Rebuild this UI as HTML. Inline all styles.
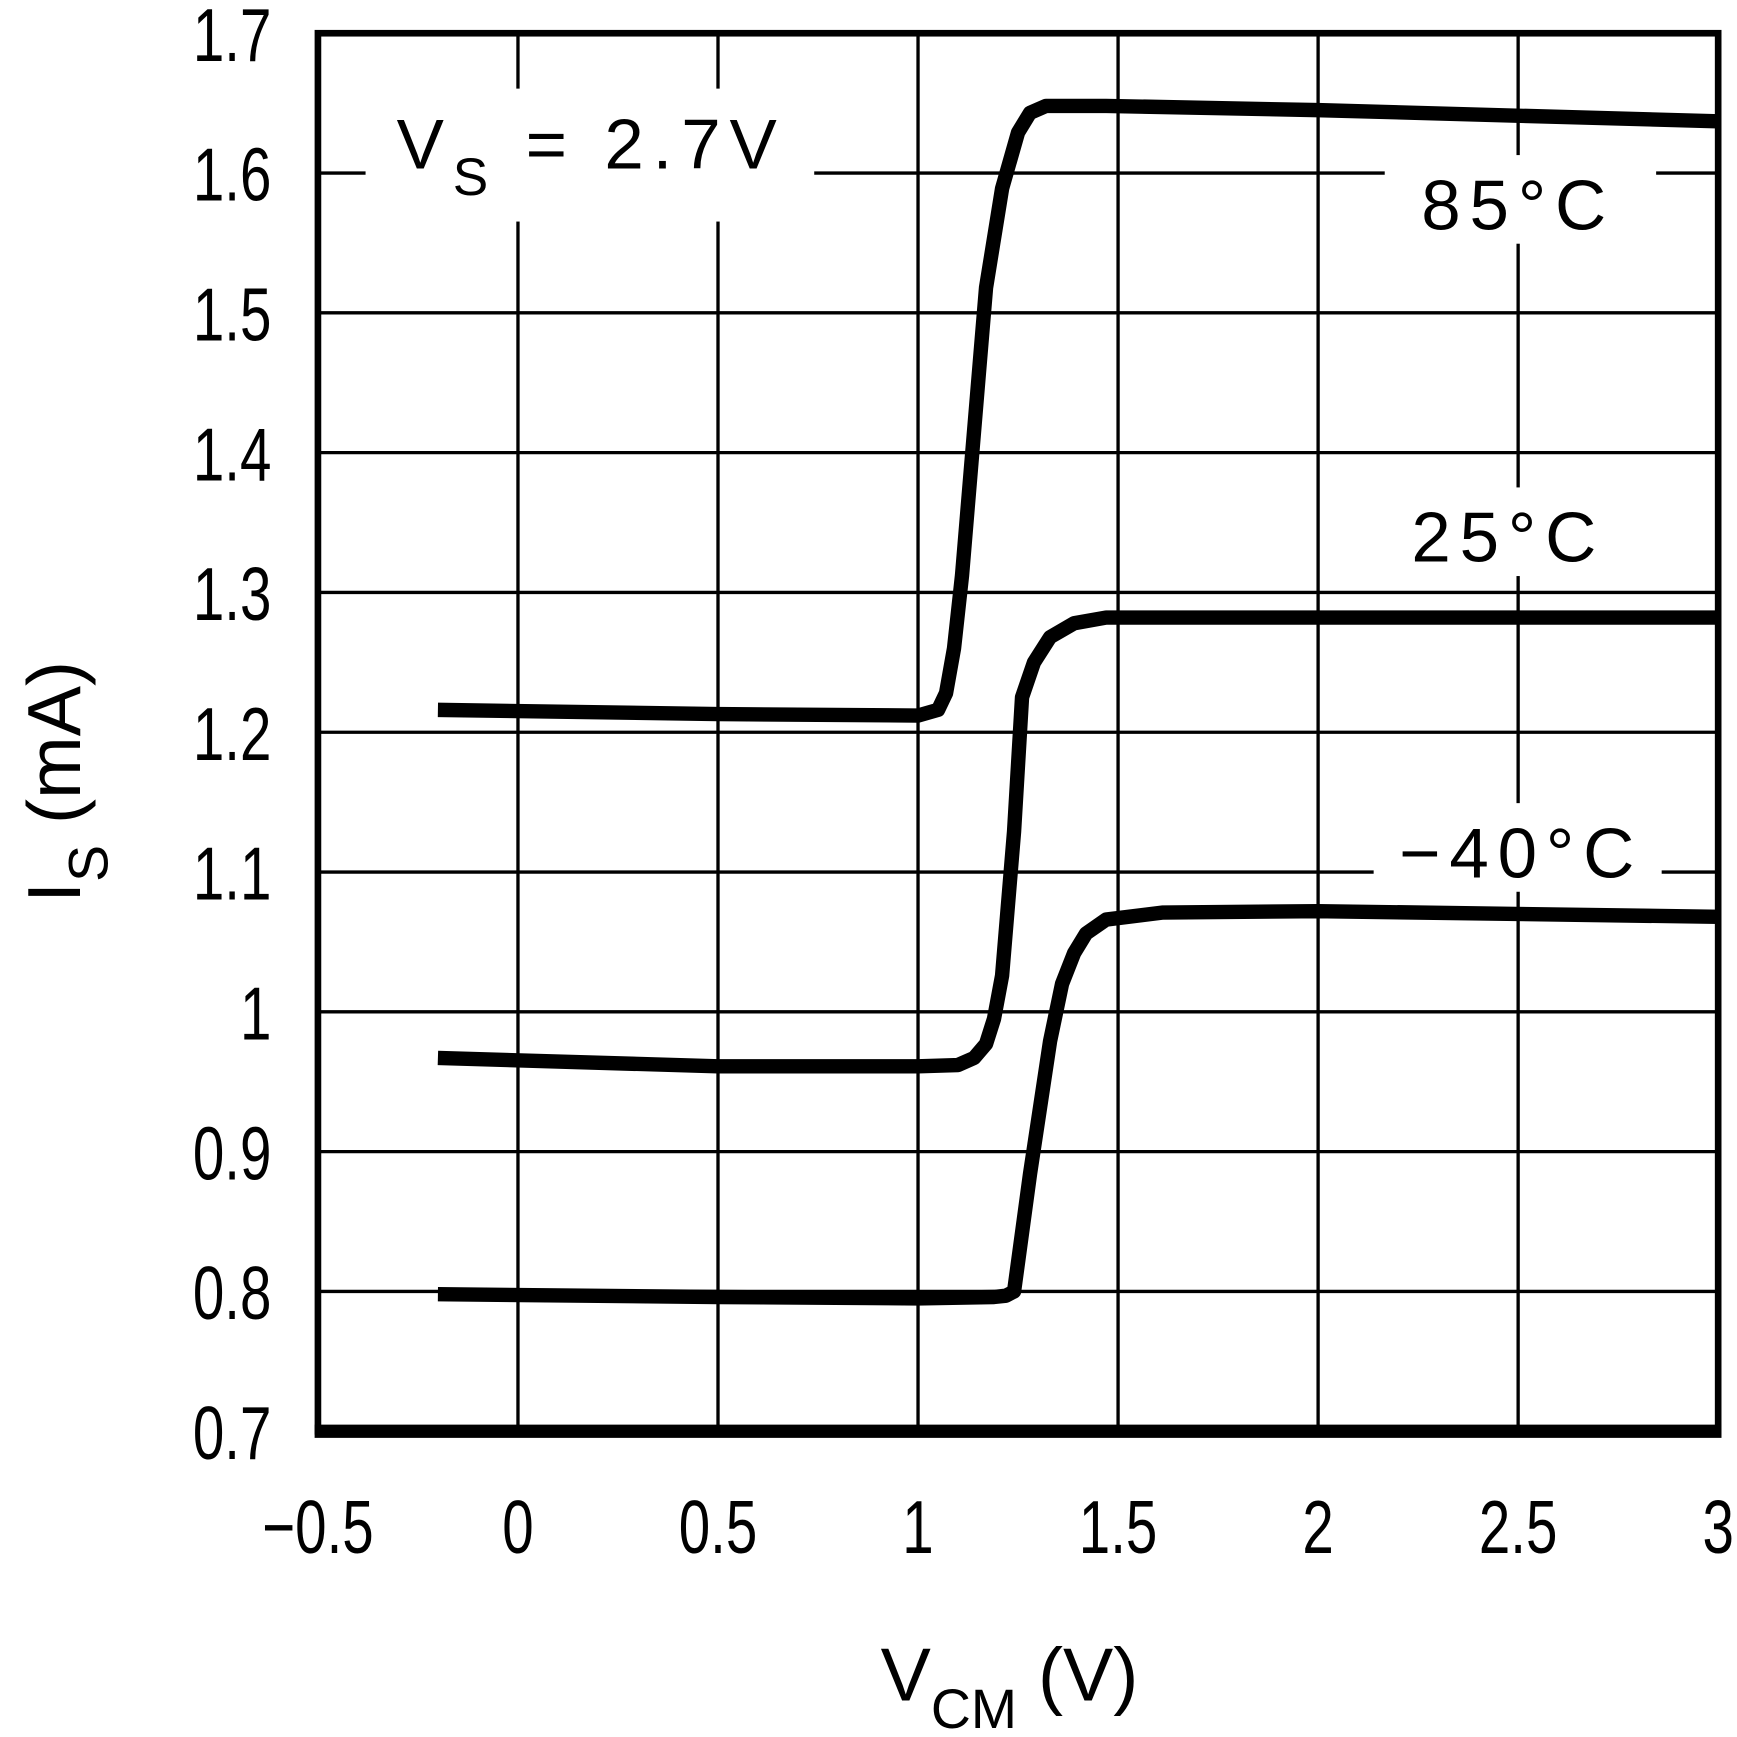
<!DOCTYPE html>
<html><head><meta charset="utf-8"><style>html,body{margin:0;padding:0;background:#fff}svg{display:block}</style></head>
<body>
<svg width="1737" height="1737" viewBox="0 0 1568 1568" xmlns="http://www.w3.org/2000/svg" font-family="Liberation Sans, sans-serif">
<g id="grid"></g>
<g id="labels"></g>
<g id="series"></g>
<rect x="287" y="30" width="1264" height="1262" fill="none" stroke="#000" stroke-width="6"/>
<line x1="284" y1="1292" x2="1554" y2="1292" stroke="#000" stroke-width="12"/>
<g id="ticks"></g>
</svg>
<script>
const xTicks=[-0.5,0,0.5,1,1.5,2,2.5,3];
const xTickLabels=["-0.5","0","0.5","1","1.5","2","2.5","3"];
const yTicks=[0.7,0.8,0.9,1.0,1.1,1.2,1.3,1.4,1.5,1.6,1.7];
const yTickLabels=["0.7","0.8","0.9","1","1.1","1.2","1.3","1.4","1.5","1.6","1.7"];
const s85x=[-0.2,0.5,1.0,1.05,1.07,1.09,1.11,1.17,1.21,1.25,1.28,1.32,1.47,2.0,3.0];
const s85y=[1.216,1.213,1.212,1.216,1.228,1.26,1.312,1.518,1.589,1.629,1.643,1.648,1.648,1.645,1.637];
const s25x=[-0.2,0.5,1.0,1.1,1.14,1.17,1.19,1.21,1.24,1.26,1.29,1.33,1.39,1.47,2.0,3.0];
const s25y=[0.967,0.961,0.961,0.962,0.967,0.977,0.995,1.026,1.129,1.225,1.25,1.268,1.278,1.282,1.282,1.282];
const sm40x=[-0.2,0.5,1.0,1.19,1.22,1.24,1.28,1.33,1.36,1.39,1.42,1.47,1.61,2.0,3.0];
const sm40y=[0.798,0.796,0.795,0.796,0.797,0.80,0.884,0.979,1.02,1.042,1.056,1.066,1.071,1.072,1.068];
const X=v=>287+(v+0.5)*1264/3.5;
const Y=v=>30+(1.7-v)*1262;
const NS="http://www.w3.org/2000/svg";
function mk(t,a,p){const e=document.createElementNS(NS,t);for(const k in a)e.setAttribute(k,a[k]);p.appendChild(e);return e;}
const grid=document.getElementById('grid'),ticks=document.getElementById('ticks'),labels=document.getElementById('labels'),series=document.getElementById('series');
xTicks.forEach((v,i)=>{
 const l=mk('line',{x1:X(v),x2:X(v),y1:30,y2:1292,stroke:'#000','stroke-width':3},grid);
 
 
 const t=mk('text',{x:X(v),y:1402,'font-size':68,'text-anchor':'middle',transform:`translate(${X(v)},0) scale(0.75,1) translate(${-X(v)},0)`},ticks);
 t.textContent=xTickLabels[i].replace('-','\u2212');
 
 
});
yTicks.forEach((v,i)=>{
 const l=mk('line',{x1:287,x2:1551,y1:Y(v),y2:Y(v),stroke:'#000','stroke-width':3},grid);
 
 
 const t=mk('text',{x:245,y:Y(v)+25,'font-size':68,'text-anchor':'end',transform:`translate(245,0) scale(0.75,1) translate(-245,0)`},ticks);
 t.textContent=yTickLabels[i];
 
 
});
function ann(x,y,w,h,txt,name,tx,ty){
 const r=mk('rect',{x:x,y:y,width:w,height:h,fill:'#fff'},labels);
 
 
 const t=mk('text',{x:tx,y:ty,'font-size':64,'letter-spacing':8},labels);
 t.innerHTML=txt;
 
 
}
ann(330,80,405,120,'V<tspan font-size="48" dy="24">S</tspan><tspan dy="-24"> = 2.7V</tspan>','supply-voltage-label',358,152);
ann(1250,140,245,80,'85°C','label-85c',1283,207);
ann(1250,440,225,80,'25°C','label-25c',1274,507);
ann(1240,725,260,80,'\u221240°C','label-minus40c',1263,792);
function path(xs,ys,name){
 const d=xs.map((v,i)=>(i?'L':'M')+X(v).toFixed(1)+' '+Y(ys[i]).toFixed(1)).join(' ');
 const p=mk('path',{d:d,fill:'none',stroke:'#000','stroke-width':13,'stroke-linejoin':'round'},series);
 
 
}
path(s85x,s85y,'series-85c');
path(s25x,s25y,'series-25c');
path(sm40x,sm40y,'series-minus40c');
const xt=mk('text',{x:795,y:1535,'font-size':68},ticks);
xt.innerHTML='V<tspan font-size="50" dy="25">CM</tspan><tspan dy="-25"> (V)</tspan>';


const yt=mk('text',{x:0,y:0,'font-size':68,transform:'translate(72,815) rotate(-90)'},ticks);
yt.innerHTML='I<tspan font-size="50" dy="25">S</tspan><tspan dy="-25"> (mA)</tspan>';


</script>
</body></html>
